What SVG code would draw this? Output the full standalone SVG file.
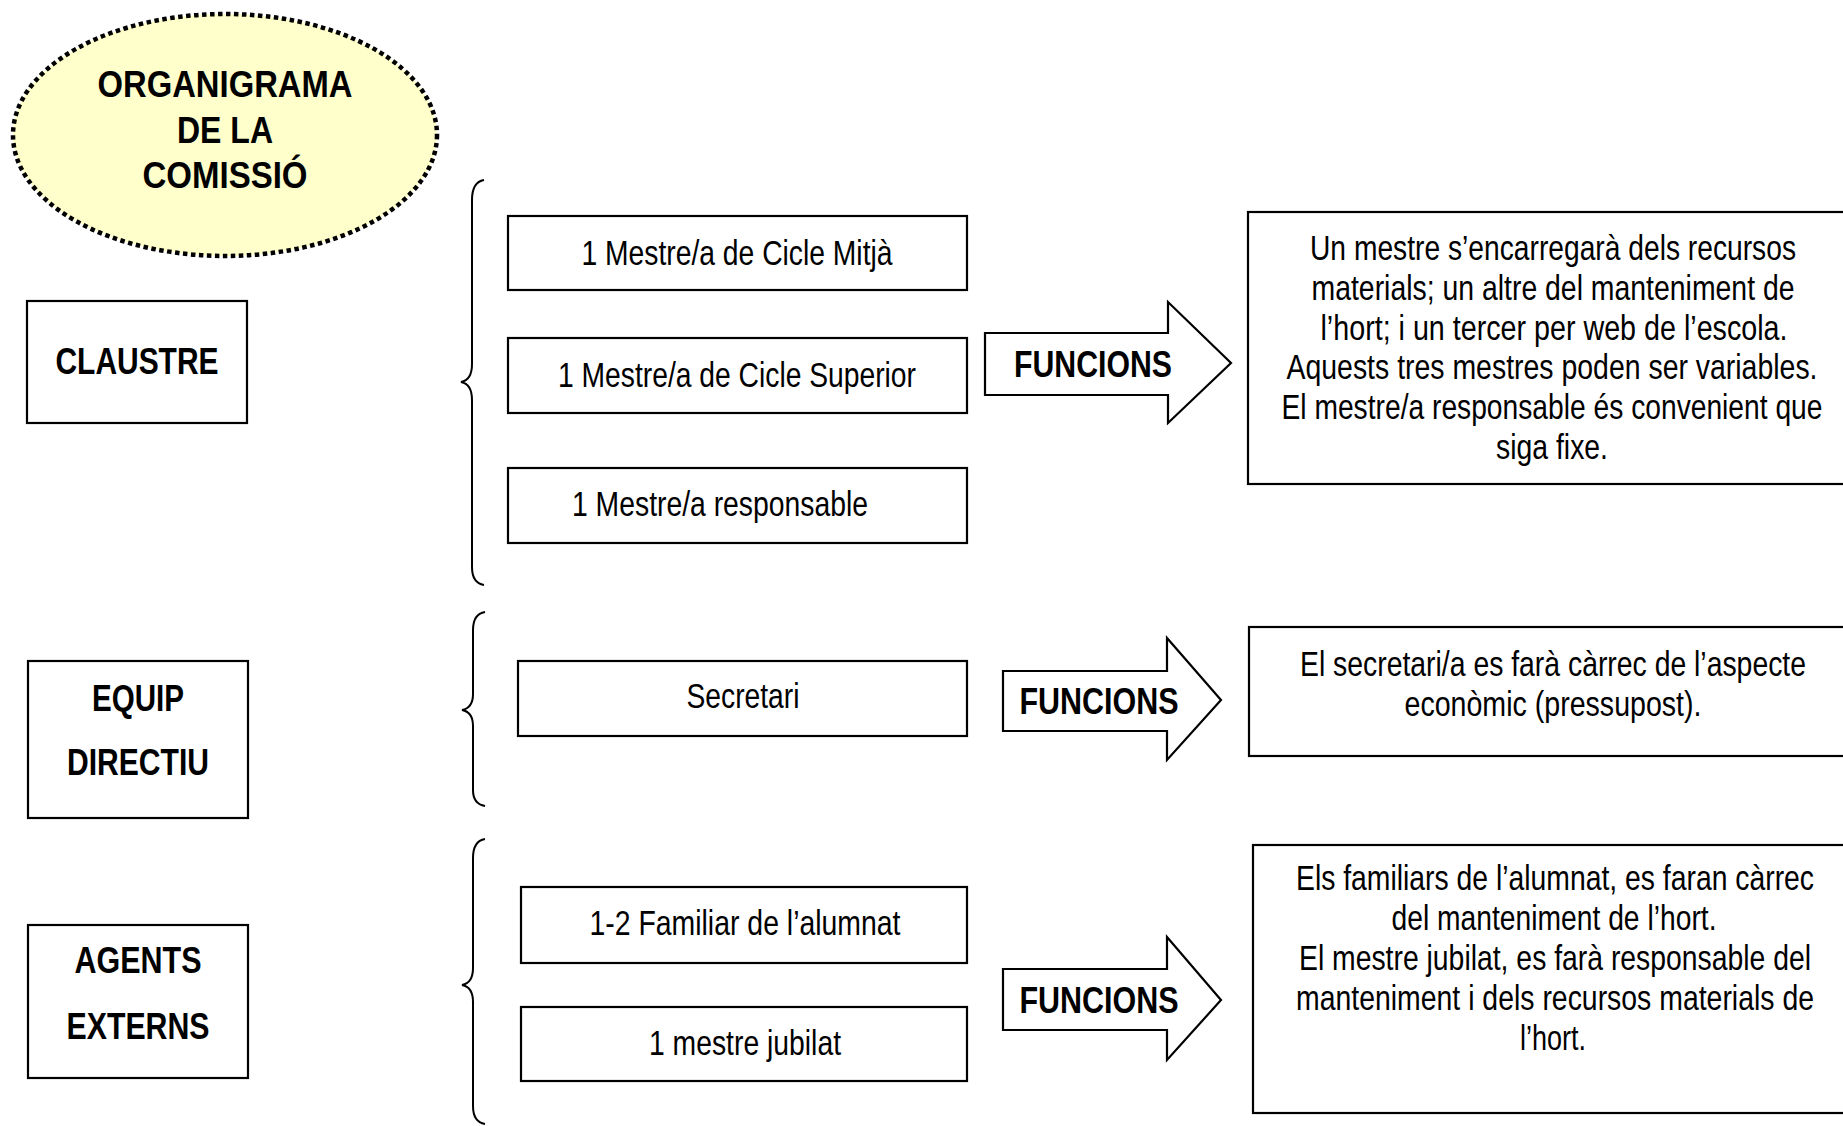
<svg xmlns="http://www.w3.org/2000/svg" width="1843" height="1126" viewBox="0 0 1843 1126">
<style>
text{font-family:"Liberation Sans",Arial,sans-serif;fill:#000;text-anchor:middle}
.b{font-weight:bold;font-size:37px}
.t{font-weight:bold;font-size:37px}
.r{font-size:35px}
.box{fill:#fff;stroke:#000;stroke-width:2.2}
.arr{fill:#fff;stroke:#000;stroke-width:2.2;stroke-linejoin:miter}
.brace{fill:none;stroke:#000;stroke-width:2}
</style>
<rect width="1843" height="1126" fill="#fff"/>
<g id="title">
<ellipse cx="225" cy="135" rx="212" ry="121" fill="#FFFFCC" stroke="#000" stroke-width="4.5" stroke-dasharray="4.5 3.5"/>
<text class="t" x="225" y="97" textLength="255" lengthAdjust="spacingAndGlyphs">ORGANIGRAMA</text>
<text class="t" x="225" y="143" textLength="96" lengthAdjust="spacingAndGlyphs">DE LA</text>
<text class="t" x="225" y="188" textLength="165" lengthAdjust="spacingAndGlyphs">COMISSIÓ</text>
</g>
<g id="claustre">
<rect class="box" x="27" y="301" width="220" height="122"/>
<text class="b" x="137" y="374" textLength="163" lengthAdjust="spacingAndGlyphs">CLAUSTRE</text>
</g>
<g id="equip-directiu">
<rect class="box" x="28" y="661" width="220" height="157"/>
<text class="b" x="138" y="711" textLength="92" lengthAdjust="spacingAndGlyphs">EQUIP</text>
<text class="b" x="138" y="775" textLength="142" lengthAdjust="spacingAndGlyphs">DIRECTIU</text>
</g>
<g id="agents-externs">
<rect class="box" x="28" y="925" width="220" height="153"/>
<text class="b" x="138" y="973" textLength="127" lengthAdjust="spacingAndGlyphs">AGENTS</text>
<text class="b" x="138" y="1039" textLength="143" lengthAdjust="spacingAndGlyphs">EXTERNS</text>
</g>
<g id="connectors">
<path class="brace" d="M484,180 Q472,182 472,200 L472,364 Q472,380 461,382 Q472,384 472,400 L472,567 Q472,583 484,585"/>
<path class="brace" d="M485,612 Q473,614 473,630 L473,694 Q473,708 462,710 Q473,712 473,726 L473,790 Q473,804 485,806"/>
<path class="brace" d="M485,839 Q473,841 473,858 L473,968 Q473,983 462,985 Q473,987 473,1002 L473,1106 Q473,1122 485,1124"/>
</g>
<g id="mestre-cicle-mitja">
<rect class="box" x="508" y="216" width="459" height="74"/>
<text class="r" x="737" y="265" textLength="311" lengthAdjust="spacingAndGlyphs">1 Mestre/a de Cicle Mitjà</text>
</g>
<g id="mestre-cicle-superior">
<rect class="box" x="508" y="338" width="459" height="75"/>
<text class="r" x="737" y="387" textLength="358" lengthAdjust="spacingAndGlyphs">1 Mestre/a de Cicle Superior</text>
</g>
<g id="mestre-responsable">
<rect class="box" x="508" y="468" width="459" height="75"/>
<text class="r" x="720" y="516" textLength="296" lengthAdjust="spacingAndGlyphs">1 Mestre/a responsable</text>
</g>
<g id="secretari">
<rect class="box" x="518" y="661" width="449" height="75"/>
<text class="r" x="743" y="708" textLength="113" lengthAdjust="spacingAndGlyphs">Secretari</text>
</g>
<g id="familiar">
<rect class="box" x="521" y="887" width="446" height="76"/>
<text class="r" x="745" y="935" textLength="311" lengthAdjust="spacingAndGlyphs">1-2 Familiar de l’alumnat</text>
</g>
<g id="mestre-jubilat">
<rect class="box" x="521" y="1007" width="446" height="74"/>
<text class="r" x="745" y="1055" textLength="192" lengthAdjust="spacingAndGlyphs">1 mestre jubilat</text>
</g>
<g id="funcions-1">
<path class="arr" d="M985,333 H1168 V302 L1231,363 L1168,423 V395 H985 Z"/>
<text class="b" x="1093" y="377" textLength="158" lengthAdjust="spacingAndGlyphs">FUNCIONS</text>
</g>
<g id="funcions-2">
<path class="arr" d="M1003,671 H1167 V638 L1221,700 L1167,760 V731 H1003 Z"/>
<text class="b" x="1099" y="714" textLength="159" lengthAdjust="spacingAndGlyphs">FUNCIONS</text>
</g>
<g id="funcions-3">
<path class="arr" d="M1003,969 H1167 V937 L1221,1000 L1167,1060 V1030 H1003 Z"/>
<text class="b" x="1099" y="1013" textLength="159" lengthAdjust="spacingAndGlyphs">FUNCIONS</text>
</g>
<g id="funcions-claustre">
<rect class="box" x="1248" y="212" width="610" height="272"/>
<text class="r" x="1553" y="260" textLength="486" lengthAdjust="spacingAndGlyphs">Un mestre s’encarregarà dels recursos</text>
<text class="r" x="1553" y="300" textLength="483" lengthAdjust="spacingAndGlyphs">materials; un altre del manteniment de</text>
<text class="r" x="1554" y="340" textLength="467" lengthAdjust="spacingAndGlyphs">l’hort; i un tercer per web de l’escola.</text>
<text class="r" x="1552" y="379" textLength="531" lengthAdjust="spacingAndGlyphs">Aquests tres mestres poden ser variables.</text>
<text class="r" x="1552" y="419" textLength="541" lengthAdjust="spacingAndGlyphs">El mestre/a responsable és convenient que</text>
<text class="r" x="1552" y="459" textLength="112" lengthAdjust="spacingAndGlyphs">siga fixe.</text>
</g>
<g id="funcions-equip">
<rect class="box" x="1249" y="627" width="610" height="129"/>
<text class="r" x="1553" y="676" textLength="506" lengthAdjust="spacingAndGlyphs">El secretari/a es farà càrrec de l’aspecte</text>
<text class="r" x="1553" y="716" textLength="297" lengthAdjust="spacingAndGlyphs">econòmic (pressupost).</text>
</g>
<g id="funcions-agents">
<rect class="box" x="1253" y="845" width="610" height="268"/>
<text class="r" x="1555" y="890" textLength="518" lengthAdjust="spacingAndGlyphs">Els familiars de l’alumnat, es faran càrrec</text>
<text class="r" x="1554" y="930" textLength="325" lengthAdjust="spacingAndGlyphs">del manteniment de l’hort.</text>
<text class="r" x="1555" y="970" textLength="512" lengthAdjust="spacingAndGlyphs">El mestre jubilat, es farà responsable del</text>
<text class="r" x="1555" y="1010" textLength="518" lengthAdjust="spacingAndGlyphs">manteniment i dels recursos materials de</text>
<text class="r" x="1553" y="1050" textLength="66" lengthAdjust="spacingAndGlyphs">l’hort.</text>
</g>
</svg>
